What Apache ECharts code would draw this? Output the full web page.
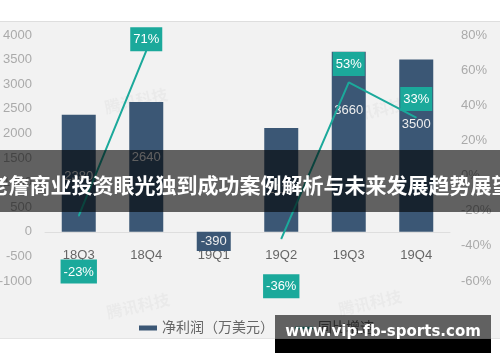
<!DOCTYPE html>
<html>
<head>
<meta charset="utf-8">
<script src="https://cdn.jsdelivr.net/npm/echarts@6/dist/echarts.min.js"></script>
<style>
html,body{margin:0;padding:0;background:#fff;}
#chart{width:500px;height:362px;}
</style>
</head>
<body>
<div id="chart"></div>
<script>
const categories = ['18Q3', '18Q4', '19Q1', '19Q2', '19Q3', '19Q4'];
const profit = [2380, 2640, -390, 2110, 3660, 3500];
const growth = [-23, 71, null, -36, 53, 33];
const profitName = '净利润（万美元）';
const growthName = '同比增速';
const bannerText = '老詹商业投资眼光独到成功案例解析与未来发展趋势展望';
const siteText = 'www.vip-fb-sports.com';
const markText = '腾讯科技';

const BAR = '#3b5775';
const TEAL = '#1ba99b';
const FONT = '"Liberation Sans", Arial, "Noto Sans CJK SC", sans-serif';

// label placement styles (not data)
const barLabelDist = [55, 49, 0, 55, 52, 58];
const lineLabelPos = [['bottom', 43], ['top', -1], null, ['bottom', 35], ['top', 6], ['top', 6]];

const barData = profit.map((v, i) => ({
  value: v,
  label: v < 0 ? { position: 'inside' } : { position: 'insideTop', distance: barLabelDist[i] }
}));
const lineData = growth.map((v, i) => {
  if (v === null) return null;
  const p = lineLabelPos[i];
  return { value: v, label: { position: p[0], distance: p[1] } };
});

const chart = echarts.init(document.getElementById('chart'), null, { renderer: 'canvas' });
const wm = (x, y) => ({
  type: 'text', x: x, y: y, rotation: 0.22, z: -5, silent: true,
  style: { text: markText, fill: 'rgba(120,120,120,0.06)', font: 'bold 16px "Noto Sans CJK SC"' }
});
chart.setOption({
  backgroundColor: '#fff',
  textStyle: { fontFamily: FONT },
  animation: false,
  grid: { left: 45, right: 50, top: 35, bottom: 81, containLabel: false, outerBoundsMode: 'none' },
  legend: {
    left: 134, top: 316,
    itemWidth: 18, itemHeight: 5, itemGap: 21,
    textStyle: { color: '#666', fontSize: 14, fontFamily: FONT },
    data: [
      { name: profitName, icon: 'rect', itemStyle: { color: BAR } },
      { name: growthName, icon: 'path://M0,0H18V2.5H0Z', itemStyle: { color: TEAL } }
    ]
  },
  xAxis: {
    type: 'category',
    data: categories,
    axisLine: { show: true, onZero: true, lineStyle: { color: '#dedede', width: 1 } },
    axisTick: { show: false },
    axisLabel: { color: '#666', fontSize: 13, margin: -32 },
    splitLine: { show: false }
  },
  yAxis: [
    {
      type: 'value', min: -1000, max: 4000, interval: 500,
      axisLine: { show: false }, axisTick: { show: false }, splitLine: { show: false },
      axisLabel: { color: '#aaa', fontSize: 13, margin: 13, formatter: v => String(v) }
    },
    {
      type: 'value', min: -60, max: 80, interval: 20,
      axisLine: { show: false }, axisTick: { show: false }, splitLine: { show: false },
      axisLabel: { color: '#aaa', fontSize: 13, margin: 11, formatter: '{value}%' }
    }
  ],
  series: [
    {
      name: profitName, type: 'bar', barWidth: 34, z: 2,
      itemStyle: { color: BAR },
      label: { show: true, color: '#eee', fontSize: 13 },
      data: barData
    },
    {
      name: growthName, type: 'line', yAxisIndex: 1, z: 3,
      symbol: 'circle', symbolSize: 1, showSymbol: true,
      connectNulls: false,
      lineStyle: { color: TEAL, width: 2 },
      itemStyle: { color: TEAL },
      label: {
        show: true, formatter: '{c}%', color: '#fff', fontSize: 13,
        backgroundColor: TEAL, padding: [6, 3, 5, 3]
      },
      data: lineData
    }
  ],
  graphic: [
    { type: 'rect', z: -10, silent: true, shape: { x: 0, y: 21, width: 500, height: 317 }, style: { fill: '#f2f2f2' } },
    { type: 'line', z: -9, silent: true, shape: { x1: 0, y1: 21.5, x2: 500, y2: 21.5 }, style: { stroke: '#dedede', lineWidth: 1 } },
    { type: 'line', z: -9, silent: true, shape: { x1: 0, y1: 338.5, x2: 500, y2: 338.5 }, style: { stroke: '#e4e4e4', lineWidth: 1 } },
    wm(103, 100), wm(340, 110), wm(105, 305), wm(337, 302),
    { type: 'rect', z: 100, silent: true, shape: { x: 0, y: 150, width: 500, height: 62 }, style: { fill: 'rgba(0,0,0,0.6)' } },
    { type: 'text', z: 101, silent: true, x: 250, y: 185,
      style: { text: bannerText, fill: '#fff', font: 'bold 21px "Noto Sans CJK SC"', textAlign: 'center', textVerticalAlign: 'middle' } },
    { type: 'rect', z: 100, silent: true, shape: { x: 275, y: 315, width: 216, height: 38 }, style: { fill: 'rgba(0,0,0,0.6)' } },
    { type: 'rect', z: 100, silent: true, shape: { x: 275, y: 339, width: 216, height: 14 }, style: { fill: '#000' } },
    { type: 'text', z: 101, silent: true, x: 383, y: 332,
      style: { text: siteText, fill: '#fff', font: 'bold 15px "DejaVu Sans"', textAlign: 'center', textVerticalAlign: 'middle' } }
  ]
});
</script>
</body>
</html>
